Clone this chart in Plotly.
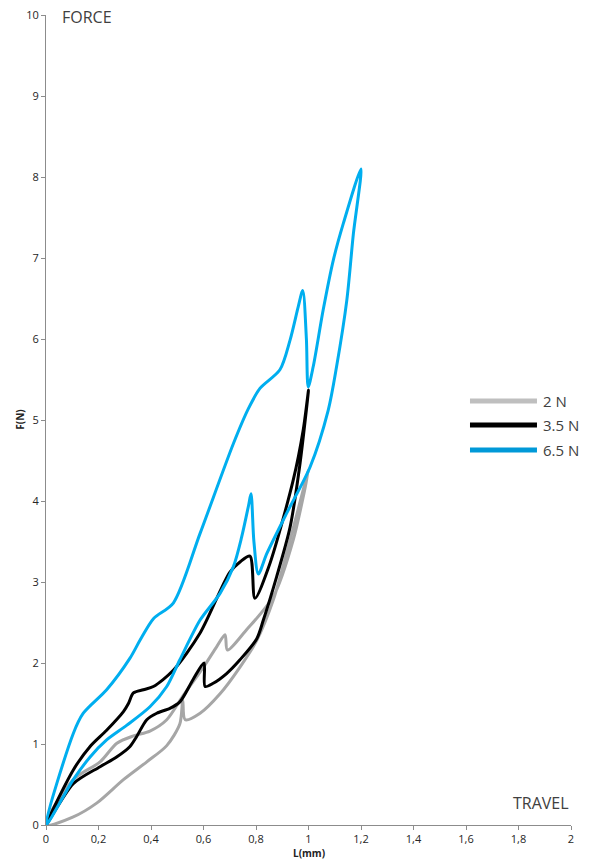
import plotly.graph_objects as go

# Hysteresis loops: force F(N) against travel L(mm)
gray_x = [0, 0.104, 0.206, 0.27, 0.333, 0.396, 0.46, 0.523, 0.60, 0.65, 0.682, 0.691, 0.764, 0.866, 0.942, 1.0,
          0.93, 0.866, 0.803, 0.739, 0.663, 0.587, 0.53, 0.521, 0.51, 0.46, 0.384, 0.295, 0.193, 0.104, 0]
gray_y = [0, 0.56, 0.78, 1.01, 1.10, 1.16, 1.30, 1.60, 1.95, 2.2, 2.35, 2.16, 2.41, 2.82, 3.52, 4.38,
          3.52, 2.78, 2.28, 1.95, 1.62, 1.38, 1.30, 1.54, 1.25, 0.98, 0.78, 0.56, 0.27, 0.10, 0]

black_x = [0, 0.104, 0.168, 0.231, 0.295, 0.314, 0.333, 0.371, 0.409, 0.485, 0.587, 0.70, 0.74, 0.777, 0.796,
           0.85, 0.942, 0.98, 1.0, 0.968, 0.93, 0.879, 0.828, 0.803, 0.739, 0.688, 0.637, 0.606, 0.602, 0.561,
           0.51, 0.472, 0.422, 0.384, 0.345, 0.32, 0.269, 0.206, 0.104, 0]
black_y = [0, 0.68, 0.97, 1.17, 1.40, 1.50, 1.63, 1.67, 1.71, 1.91, 2.37, 3.12, 3.25, 3.32, 2.80,
           3.2, 4.26, 4.88, 5.37, 4.47, 3.68, 3.07, 2.53, 2.30, 2.04, 1.87, 1.75, 1.71, 2.0, 1.80,
           1.52, 1.44, 1.38, 1.30, 1.09, 0.97, 0.84, 0.72, 0.51, 0]

blue_x = [0, 0.104, 0.142, 0.231, 0.32, 0.358, 0.41, 0.485, 0.587, 0.714, 0.771, 0.815, 0.891, 0.93, 0.961,
          0.978, 0.992, 0.999, 1.018, 1.056, 1.095, 1.133, 1.2, 1.171, 1.146, 1.107, 1.075, 1.006, 0.917,
          0.841, 0.809, 0.792, 0.781, 0.772, 0.745, 0.714, 0.663, 0.587, 0.51, 0.46, 0.396, 0.307, 0.231,
          0.168, 0.104, 0]
blue_y = [0, 1.13, 1.38, 1.67, 2.06, 2.28, 2.55, 2.74, 3.6, 4.71, 5.14, 5.39, 5.62, 5.99, 6.40,
          6.6, 6.0, 5.41, 5.66, 6.36, 6.98, 7.43, 8.1, 7.3, 6.48, 5.66, 5.12, 4.42, 3.85,
          3.35, 3.10, 3.5, 4.09, 3.95, 3.55, 3.19, 2.86, 2.53, 2.04, 1.71, 1.46, 1.23, 1.05,
          0.84, 0.56, 0]

series_names = ["2 N", "3.5 N", "6.5 N"]
series_colors = ["#A6A6A6", "#000000", "#00AEEF"]
legend_colors = ["#BFBFBF", "#000000", "#0099D8"]

fig = go.Figure()
for name, xs, ys, col in zip(series_names, [gray_x, black_x, blue_x], [gray_y, black_y, blue_y], series_colors):
    fig.add_trace(go.Scatter(x=xs, y=ys, mode="lines", name=name,
                             line=dict(color=col, width=3, shape="spline", smoothing=0.8),
                             showlegend=False))

# hand-drawn legend so the line samples are as long as in the original
leg_y = [0.5235, 0.4938, 0.463]
for name, col, yy in zip(series_names, legend_colors, leg_y):
    fig.add_shape(type="line", xref="paper", yref="paper", x0=0.8076, x1=0.9352, y0=yy, y1=yy,
                  line=dict(color=col, width=5))
    fig.add_annotation(text=name, xref="paper", yref="paper", x=0.942, y=yy, xanchor="left",
                       yanchor="middle", showarrow=False, font=dict(size=15, color="#404040"))

fig.add_annotation(text="FORCE", xref="paper", yref="paper", x=0.027, y=0.998, xanchor="left",
                   yanchor="middle", showarrow=False, font=dict(size=16, color="#404040"))
fig.add_annotation(text="TRAVEL", xref="paper", yref="paper", x=1.0, y=0.027, xanchor="right",
                   yanchor="middle", showarrow=False, font=dict(size=16, color="#404040"))
fig.add_annotation(text="<b>L(mm)</b>", xref="paper", yref="paper", x=0.5, y=-0.034, xanchor="center",
                   yanchor="middle", showarrow=False, font=dict(size=10, color="#222"))
fig.add_annotation(text="<b>F(N)</b>", xref="paper", yref="paper", x=-0.05, y=0.5, xanchor="center",
                   yanchor="middle", showarrow=False, textangle=-90, font=dict(size=10, color="#222"))

axis_style = dict(showgrid=False, zeroline=False, showline=True, linecolor="#8C8C8C", linewidth=1,
                  ticks="outside", ticklen=4, tickcolor="#8C8C8C", automargin=False,
                  ticklabeloverflow="allow", tickfont=dict(size=11, color="#262626"))

fig.update_xaxes(range=[0, 2], dtick=0.2, tick0=0, **axis_style)
fig.update_yaxes(range=[0, 10], dtick=1, tick0=0, **axis_style)

# page body has an 8px margin, so the figure is a bit smaller than the window
fig.update_layout(width=582, height=851, margin=dict(l=38, r=19, t=7, b=34),
                  paper_bgcolor="white", plot_bgcolor="white", separators=",.",
                  font=dict(family="Open Sans, Noto Sans, sans-serif"))

fig.write_html("out.html")
